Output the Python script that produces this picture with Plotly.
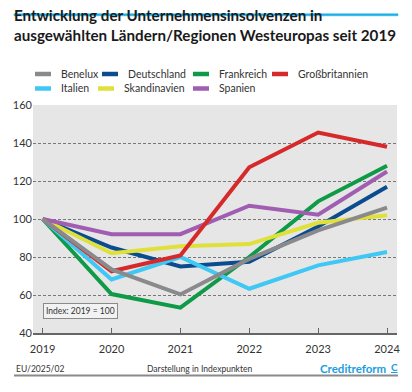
import plotly.graph_objects as go

years = [2019, 2020, 2021, 2022, 2023, 2024]
benelux = [100, 73.5, 60.3, 79, 94, 106]
deutschland = [100, 85, 75, 77.5, 96, 117]
frankreich = [100, 60.5, 53.3, 80, 109.3, 128]
grossbritannien = [100, 72.5, 80.8, 127.2, 145.5, 138]
italien = [100, 68.2, 80, 63.3, 75.6, 82.6]
skandinavien = [100, 82, 85.6, 86.8, 98, 102]
spanien = [100, 92, 92, 107, 102.3, 125]

series = [
    ("Deutschland", deutschland, "#0b4c8e"),
    ("Frankreich", frankreich, "#0f9a48"),
    ("Italien", italien, "#3fc8f4"),
    ("Skandinavien", skandinavien, "#e0e03a"),
    ("Spanien", spanien, "#a05db1"),
    ("Großbritannien", grossbritannien, "#d62a2a"),
    ("Benelux", benelux, "#8a8a8c"),
]

legend_items = [
    ("Benelux", "#8a8a8c", 34, 74),
    ("Deutschland", "#0b4c8e", 101, 74),
    ("Frankreich", "#0f9a48", 192, 74),
    ("Großbritannien", "#d62a2a", 271, 74),
    ("Italien", "#3fc8f4", 34, 88.5),
    ("Skandinavien", "#e0e03a", 97, 88.5),
    ("Spanien", "#a05db1", 192, 88.5),
]

W, H = 412, 392
L, R, T, B = 33, 15, 105, 59
PW, PH = W - L - R, H - T - B

def px(x):
    return (x - L) / PW

def py(y):
    return (H - B - y) / PH

fig = go.Figure()
for name, vals, col in series:
    fig.add_trace(go.Scatter(x=years, y=vals, mode="lines", name=name,
                             line=dict(color=col, width=4), showlegend=False))

FONT = "Lato"
shapes = [
    dict(type="rect", xref="paper", yref="paper", x0=px(14), x1=px(398), y0=py(13.8), y1=py(15.8),
         fillcolor="#1ab0e8", line=dict(color="#1ab0e8", width=0.5)),
    dict(type="line", xref="paper", yref="paper", x0=px(14), x1=px(398), y0=py(375.6), y1=py(375.6),
         line=dict(color="#8a8a8a", width=2)),
]
annotations = [
    dict(text="EU/2025/02", xref="paper", yref="paper", x=px(14), y=py(369), xanchor="left",
         yanchor="middle", showarrow=False, font=dict(family=FONT, size=8.5, color="#333")),
    dict(text="Darstellung in Indexpunkten", xref="paper", yref="paper", x=px(199.5), y=py(369),
         xanchor="center", yanchor="middle", showarrow=False, font=dict(family=FONT, size=8.5, color="#333")),
    dict(text="<b>Creditreform</b>", xref="paper", yref="paper", x=px(388), y=py(368),
         xanchor="right", yanchor="middle", showarrow=False, font=dict(family=FONT, size=11.5, color="#1a9ee0")),
    dict(text="<b><u>C</u></b>", xref="paper", yref="paper", x=px(389), y=py(366.5),
         xanchor="left", yanchor="middle", showarrow=False, font=dict(family=FONT, size=10, color="#1a9ee0")),
    dict(text="Index: 2019 = 100", x=2019, y=51.7, xref="x", yref="y", xanchor="left", yanchor="middle",
         showarrow=False, bgcolor="#f2f2f2", bordercolor="#8a8a8a", borderwidth=1, borderpad=2,
         font=dict(family=FONT, size=8.5, color="#333")),
]
for name, col, x0, y0 in legend_items:
    shapes.append(dict(type="line", xref="paper", yref="paper", x0=px(x0 + 1), x1=px(x0 + 17),
                       y0=py(y0), y1=py(y0), line=dict(color=col, width=4.5)))
    annotations.append(dict(text=name, xref="paper", yref="paper", x=px(x0 + 25), y=py(y0),
                            xanchor="left", yanchor="middle", showarrow=False,
                            font=dict(family=FONT, size=10.5, color="#333")))

fig.update_layout(
    width=W, height=H, margin=dict(l=L, r=R, t=T, b=B),
    paper_bgcolor="white", plot_bgcolor="#e6e6e6",
    title=dict(text="<b>Entwicklung der Unternehmensinsolvenzen in<br>ausgewählten Ländern/Regionen Westeuropas seit 2019</b>",
               xref="container", yref="container", x=14 / W, y=1 - 21 / H,
               xanchor="left", yanchor="top", pad=dict(t=0, l=0, r=0, b=0),
               font=dict(family=FONT, size=15.2, color="#1a1a1a")),
    shapes=shapes, annotations=annotations,
    font=dict(family=FONT, size=11, color="#333"),
    xaxis=dict(range=[2018.86, 2024.145], tickmode="array", tickvals=years,
               ticktext=[str(y) for y in years], showgrid=False, zeroline=False,
               showline=True, linecolor="#666", linewidth=1.5,
               ticks="inside", ticklen=5, tickcolor="#666", tickwidth=1, ticklabelstandoff=5,
               tickfont=dict(family=FONT, size=11, color="#333"), fixedrange=True),
    yaxis=dict(range=[40, 160], dtick=20, tick0=40, showgrid=True, gridcolor="#777",
               griddash="3px,2px", gridwidth=0.8, zeroline=False, showline=False,
               ticks="", tickfont=dict(family=FONT, size=11, color="#333"), fixedrange=True),
    showlegend=False,
)
fig.write_html("out.html", config={"displayModeBar": False},
               post_script="document.body.style.margin='0';document.body.style.padding='0';")
